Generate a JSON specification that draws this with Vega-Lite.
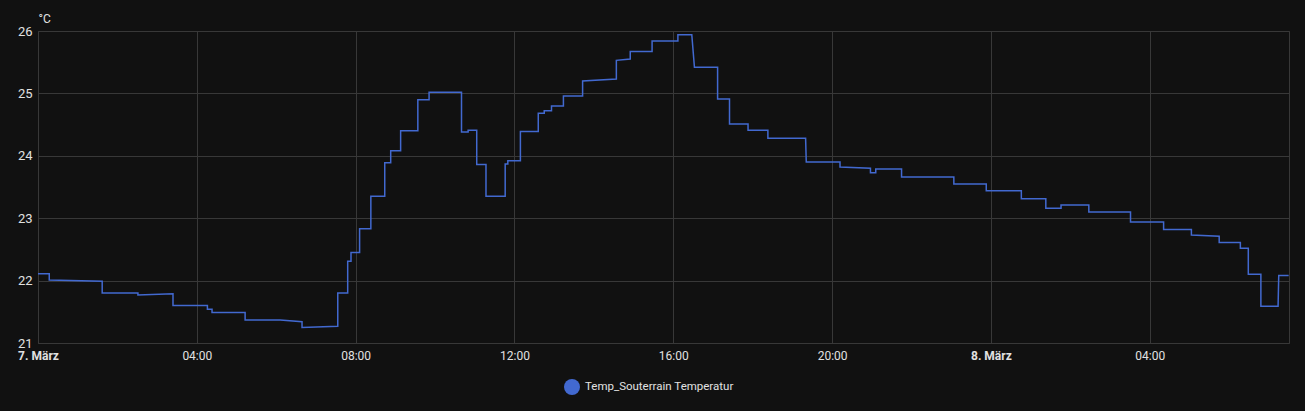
{
  "$schema": "https://vega.github.io/schema/vega-lite/v6.json",
  "width": 1251,
  "height": 312,
  "autosize": {"type": "none"},
  "padding": {"left": 38, "top": 31, "right": 16, "bottom": 68},
  "background": "#111111",
  "config": {
    "font": "Roboto",
    "view": {"stroke": "#383838", "strokeWidth": 1},
    "axis": {"gridColor": "#383838", "gridWidth": 1, "domain": false, "ticks": false, "labelColor": "#e1e1e1", "labelFont": "Roboto"}
  },
  "data": {
    "values": [
      {"t": "2024-03-07T00:00", "v": 22.11, "s": "Temp_Souterrain Temperatur"},
      {"t": "2024-03-07T00:17", "v": 22.11, "s": "Temp_Souterrain Temperatur"},
      {"t": "2024-03-07T00:17", "v": 22.01, "s": "Temp_Souterrain Temperatur"},
      {"t": "2024-03-07T01:37", "v": 21.99, "s": "Temp_Souterrain Temperatur"},
      {"t": "2024-03-07T01:37", "v": 21.80, "s": "Temp_Souterrain Temperatur"},
      {"t": "2024-03-07T02:31", "v": 21.80, "s": "Temp_Souterrain Temperatur"},
      {"t": "2024-03-07T02:31", "v": 21.77, "s": "Temp_Souterrain Temperatur"},
      {"t": "2024-03-07T03:24", "v": 21.79, "s": "Temp_Souterrain Temperatur"},
      {"t": "2024-03-07T03:24", "v": 21.60, "s": "Temp_Souterrain Temperatur"},
      {"t": "2024-03-07T04:16", "v": 21.60, "s": "Temp_Souterrain Temperatur"},
      {"t": "2024-03-07T04:16", "v": 21.54, "s": "Temp_Souterrain Temperatur"},
      {"t": "2024-03-07T04:23", "v": 21.54, "s": "Temp_Souterrain Temperatur"},
      {"t": "2024-03-07T04:23", "v": 21.49, "s": "Temp_Souterrain Temperatur"},
      {"t": "2024-03-07T05:13", "v": 21.49, "s": "Temp_Souterrain Temperatur"},
      {"t": "2024-03-07T05:13", "v": 21.37, "s": "Temp_Souterrain Temperatur"},
      {"t": "2024-03-07T06:06", "v": 21.37, "s": "Temp_Souterrain Temperatur"},
      {"t": "2024-03-07T06:39", "v": 21.34, "s": "Temp_Souterrain Temperatur"},
      {"t": "2024-03-07T06:39", "v": 21.25, "s": "Temp_Souterrain Temperatur"},
      {"t": "2024-03-07T07:33", "v": 21.27, "s": "Temp_Souterrain Temperatur"},
      {"t": "2024-03-07T07:33", "v": 21.80, "s": "Temp_Souterrain Temperatur"},
      {"t": "2024-03-07T07:48", "v": 21.80, "s": "Temp_Souterrain Temperatur"},
      {"t": "2024-03-07T07:48", "v": 22.31, "s": "Temp_Souterrain Temperatur"},
      {"t": "2024-03-07T07:53", "v": 22.31, "s": "Temp_Souterrain Temperatur"},
      {"t": "2024-03-07T07:53", "v": 22.45, "s": "Temp_Souterrain Temperatur"},
      {"t": "2024-03-07T08:06", "v": 22.45, "s": "Temp_Souterrain Temperatur"},
      {"t": "2024-03-07T08:06", "v": 22.83, "s": "Temp_Souterrain Temperatur"},
      {"t": "2024-03-07T08:23", "v": 22.83, "s": "Temp_Souterrain Temperatur"},
      {"t": "2024-03-07T08:23", "v": 23.35, "s": "Temp_Souterrain Temperatur"},
      {"t": "2024-03-07T08:44", "v": 23.35, "s": "Temp_Souterrain Temperatur"},
      {"t": "2024-03-07T08:44", "v": 23.89, "s": "Temp_Souterrain Temperatur"},
      {"t": "2024-03-07T08:53", "v": 23.89, "s": "Temp_Souterrain Temperatur"},
      {"t": "2024-03-07T08:53", "v": 24.08, "s": "Temp_Souterrain Temperatur"},
      {"t": "2024-03-07T09:08", "v": 24.08, "s": "Temp_Souterrain Temperatur"},
      {"t": "2024-03-07T09:08", "v": 24.40, "s": "Temp_Souterrain Temperatur"},
      {"t": "2024-03-07T09:34", "v": 24.40, "s": "Temp_Souterrain Temperatur"},
      {"t": "2024-03-07T09:34", "v": 24.90, "s": "Temp_Souterrain Temperatur"},
      {"t": "2024-03-07T09:51", "v": 24.90, "s": "Temp_Souterrain Temperatur"},
      {"t": "2024-03-07T09:51", "v": 25.02, "s": "Temp_Souterrain Temperatur"},
      {"t": "2024-03-07T10:40", "v": 25.02, "s": "Temp_Souterrain Temperatur"},
      {"t": "2024-03-07T10:40", "v": 24.38, "s": "Temp_Souterrain Temperatur"},
      {"t": "2024-03-07T10:50", "v": 24.38, "s": "Temp_Souterrain Temperatur"},
      {"t": "2024-03-07T10:50", "v": 24.41, "s": "Temp_Souterrain Temperatur"},
      {"t": "2024-03-07T11:03", "v": 24.41, "s": "Temp_Souterrain Temperatur"},
      {"t": "2024-03-07T11:03", "v": 23.86, "s": "Temp_Souterrain Temperatur"},
      {"t": "2024-03-07T11:17", "v": 23.86, "s": "Temp_Souterrain Temperatur"},
      {"t": "2024-03-07T11:17", "v": 23.35, "s": "Temp_Souterrain Temperatur"},
      {"t": "2024-03-07T11:46", "v": 23.35, "s": "Temp_Souterrain Temperatur"},
      {"t": "2024-03-07T11:46", "v": 23.87, "s": "Temp_Souterrain Temperatur"},
      {"t": "2024-03-07T11:50", "v": 23.87, "s": "Temp_Souterrain Temperatur"},
      {"t": "2024-03-07T11:50", "v": 23.92, "s": "Temp_Souterrain Temperatur"},
      {"t": "2024-03-07T12:09", "v": 23.92, "s": "Temp_Souterrain Temperatur"},
      {"t": "2024-03-07T12:09", "v": 24.39, "s": "Temp_Souterrain Temperatur"},
      {"t": "2024-03-07T12:36", "v": 24.39, "s": "Temp_Souterrain Temperatur"},
      {"t": "2024-03-07T12:36", "v": 24.68, "s": "Temp_Souterrain Temperatur"},
      {"t": "2024-03-07T12:45", "v": 24.68, "s": "Temp_Souterrain Temperatur"},
      {"t": "2024-03-07T12:45", "v": 24.72, "s": "Temp_Souterrain Temperatur"},
      {"t": "2024-03-07T12:56", "v": 24.72, "s": "Temp_Souterrain Temperatur"},
      {"t": "2024-03-07T12:56", "v": 24.80, "s": "Temp_Souterrain Temperatur"},
      {"t": "2024-03-07T13:14", "v": 24.80, "s": "Temp_Souterrain Temperatur"},
      {"t": "2024-03-07T13:14", "v": 24.96, "s": "Temp_Souterrain Temperatur"},
      {"t": "2024-03-07T13:43", "v": 24.96, "s": "Temp_Souterrain Temperatur"},
      {"t": "2024-03-07T13:43", "v": 25.20, "s": "Temp_Souterrain Temperatur"},
      {"t": "2024-03-07T14:34", "v": 25.23, "s": "Temp_Souterrain Temperatur"},
      {"t": "2024-03-07T14:34", "v": 25.53, "s": "Temp_Souterrain Temperatur"},
      {"t": "2024-03-07T14:55", "v": 25.55, "s": "Temp_Souterrain Temperatur"},
      {"t": "2024-03-07T14:55", "v": 25.67, "s": "Temp_Souterrain Temperatur"},
      {"t": "2024-03-07T15:28", "v": 25.67, "s": "Temp_Souterrain Temperatur"},
      {"t": "2024-03-07T15:28", "v": 25.84, "s": "Temp_Souterrain Temperatur"},
      {"t": "2024-03-07T16:07", "v": 25.84, "s": "Temp_Souterrain Temperatur"},
      {"t": "2024-03-07T16:07", "v": 25.94, "s": "Temp_Souterrain Temperatur"},
      {"t": "2024-03-07T16:28", "v": 25.94, "s": "Temp_Souterrain Temperatur"},
      {"t": "2024-03-07T16:32", "v": 25.42, "s": "Temp_Souterrain Temperatur"},
      {"t": "2024-03-07T17:07", "v": 25.42, "s": "Temp_Souterrain Temperatur"},
      {"t": "2024-03-07T17:07", "v": 24.91, "s": "Temp_Souterrain Temperatur"},
      {"t": "2024-03-07T17:25", "v": 24.91, "s": "Temp_Souterrain Temperatur"},
      {"t": "2024-03-07T17:25", "v": 24.51, "s": "Temp_Souterrain Temperatur"},
      {"t": "2024-03-07T17:53", "v": 24.51, "s": "Temp_Souterrain Temperatur"},
      {"t": "2024-03-07T17:53", "v": 24.41, "s": "Temp_Souterrain Temperatur"},
      {"t": "2024-03-07T18:23", "v": 24.41, "s": "Temp_Souterrain Temperatur"},
      {"t": "2024-03-07T18:23", "v": 24.28, "s": "Temp_Souterrain Temperatur"},
      {"t": "2024-03-07T19:20", "v": 24.28, "s": "Temp_Souterrain Temperatur"},
      {"t": "2024-03-07T19:21", "v": 23.90, "s": "Temp_Souterrain Temperatur"},
      {"t": "2024-03-07T20:12", "v": 23.90, "s": "Temp_Souterrain Temperatur"},
      {"t": "2024-03-07T20:12", "v": 23.82, "s": "Temp_Souterrain Temperatur"},
      {"t": "2024-03-07T20:58", "v": 23.80, "s": "Temp_Souterrain Temperatur"},
      {"t": "2024-03-07T20:58", "v": 23.73, "s": "Temp_Souterrain Temperatur"},
      {"t": "2024-03-07T21:06", "v": 23.73, "s": "Temp_Souterrain Temperatur"},
      {"t": "2024-03-07T21:06", "v": 23.79, "s": "Temp_Souterrain Temperatur"},
      {"t": "2024-03-07T21:45", "v": 23.79, "s": "Temp_Souterrain Temperatur"},
      {"t": "2024-03-07T21:45", "v": 23.66, "s": "Temp_Souterrain Temperatur"},
      {"t": "2024-03-07T23:04", "v": 23.66, "s": "Temp_Souterrain Temperatur"},
      {"t": "2024-03-07T23:04", "v": 23.55, "s": "Temp_Souterrain Temperatur"},
      {"t": "2024-03-07T23:53", "v": 23.55, "s": "Temp_Souterrain Temperatur"},
      {"t": "2024-03-07T23:53", "v": 23.44, "s": "Temp_Souterrain Temperatur"},
      {"t": "2024-03-08T00:46", "v": 23.44, "s": "Temp_Souterrain Temperatur"},
      {"t": "2024-03-08T00:46", "v": 23.31, "s": "Temp_Souterrain Temperatur"},
      {"t": "2024-03-08T01:23", "v": 23.31, "s": "Temp_Souterrain Temperatur"},
      {"t": "2024-03-08T01:23", "v": 23.16, "s": "Temp_Souterrain Temperatur"},
      {"t": "2024-03-08T01:46", "v": 23.16, "s": "Temp_Souterrain Temperatur"},
      {"t": "2024-03-08T01:46", "v": 23.21, "s": "Temp_Souterrain Temperatur"},
      {"t": "2024-03-08T02:28", "v": 23.21, "s": "Temp_Souterrain Temperatur"},
      {"t": "2024-03-08T02:28", "v": 23.10, "s": "Temp_Souterrain Temperatur"},
      {"t": "2024-03-08T03:31", "v": 23.10, "s": "Temp_Souterrain Temperatur"},
      {"t": "2024-03-08T03:31", "v": 22.94, "s": "Temp_Souterrain Temperatur"},
      {"t": "2024-03-08T04:21", "v": 22.94, "s": "Temp_Souterrain Temperatur"},
      {"t": "2024-03-08T04:21", "v": 22.82, "s": "Temp_Souterrain Temperatur"},
      {"t": "2024-03-08T05:03", "v": 22.82, "s": "Temp_Souterrain Temperatur"},
      {"t": "2024-03-08T05:03", "v": 22.73, "s": "Temp_Souterrain Temperatur"},
      {"t": "2024-03-08T05:45", "v": 22.71, "s": "Temp_Souterrain Temperatur"},
      {"t": "2024-03-08T05:45", "v": 22.61, "s": "Temp_Souterrain Temperatur"},
      {"t": "2024-03-08T06:17", "v": 22.61, "s": "Temp_Souterrain Temperatur"},
      {"t": "2024-03-08T06:17", "v": 22.52, "s": "Temp_Souterrain Temperatur"},
      {"t": "2024-03-08T06:29", "v": 22.52, "s": "Temp_Souterrain Temperatur"},
      {"t": "2024-03-08T06:29", "v": 22.10, "s": "Temp_Souterrain Temperatur"},
      {"t": "2024-03-08T06:48", "v": 22.10, "s": "Temp_Souterrain Temperatur"},
      {"t": "2024-03-08T06:48", "v": 21.59, "s": "Temp_Souterrain Temperatur"},
      {"t": "2024-03-08T07:14", "v": 21.59, "s": "Temp_Souterrain Temperatur"},
      {"t": "2024-03-08T07:15", "v": 22.08, "s": "Temp_Souterrain Temperatur"},
      {"t": "2024-03-08T07:30", "v": 22.08, "s": "Temp_Souterrain Temperatur"}
    ]
  },
  "mark": {"type": "line", "strokeWidth": 1.5, "interpolate": "linear", "clip": true},
  "encoding": {
    "x": {
      "field": "t",
      "type": "temporal",
      "title": null,
      "scale": {
        "domain": [
          {"year": 2024, "month": 3, "date": 7, "hours": 0, "minutes": 0},
          {"year": 2024, "month": 3, "date": 8, "hours": 7, "minutes": 30, "seconds": 30}
        ],
        "nice": false
      },
      "axis": {
        "values": [
          {"year": 2024, "month": 3, "date": 7, "hours": 0},
          {"year": 2024, "month": 3, "date": 7, "hours": 4},
          {"year": 2024, "month": 3, "date": 7, "hours": 8},
          {"year": 2024, "month": 3, "date": 7, "hours": 12},
          {"year": 2024, "month": 3, "date": 7, "hours": 16},
          {"year": 2024, "month": 3, "date": 7, "hours": 20},
          {"year": 2024, "month": 3, "date": 8, "hours": 0},
          {"year": 2024, "month": 3, "date": 8, "hours": 4}
        ],
        "labelExpr": "hours(datum.value) == 0 ? date(datum.value) + '. März' : timeFormat(datum.value, '%H:%M')",
        "labelFontWeight": {"condition": {"test": "hours(datum.value) == 0", "value": "bold"}, "value": "normal"},
        "labelFontSize": 12,
        "labelPadding": 7,
        "labelOverlap": false,
        "labelFlush": false,
        "labelBound": false
      }
    },
    "y": {
      "field": "v",
      "type": "quantitative",
      "scale": {"domain": [21, 26], "nice": false, "zero": false},
      "axis": {
        "values": [21, 22, 23, 24, 25, 26],
        "title": "°C",
        "titleAngle": 0,
        "titleX": 0,
        "titleY": -9,
        "titleAlign": "left",
        "titleBaseline": "alphabetic",
        "titleFontSize": 12,
        "titleFontWeight": "normal",
        "titleColor": "#e1e1e1",
        "labelFontSize": 13,
        "labelPadding": 6
      }
    },
    "color": {
      "field": "s",
      "type": "nominal",
      "scale": {"range": ["#4269d0"]},
      "legend": {
        "title": null,
        "orient": "none",
        "legendX": 526,
        "legendY": 348,
        "padding": 0,
        "symbolType": "circle",
        "symbolSize": 256,
        "symbolFillColor": "#4269d0",
        "symbolStrokeWidth": 0,
        "labelFontSize": 11.5,
        "labelLimit": 400,
        "labelColor": "#e1e1e1",
        "labelOffset": 5,
        "labelFont": "Roboto"
      }
    }
  }
}
